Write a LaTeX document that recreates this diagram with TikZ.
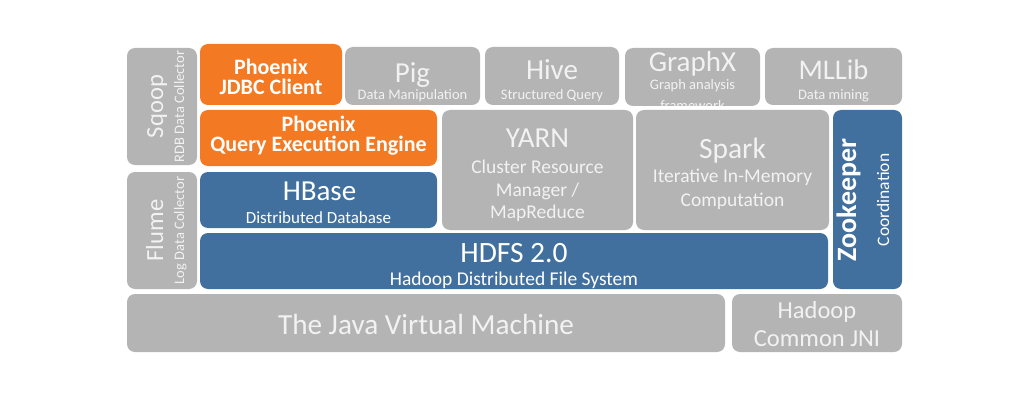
\documentclass[tikz,border=0pt]{standalone}
\usepackage{fontspec}
\setmainfont{Carlito}
\definecolor{gbox}{HTML}{B4B4B4}
\definecolor{bbox}{HTML}{41709F}
\definecolor{obox}{HTML}{F37A22}
\definecolor{gtxt}{HTML}{F2F2F2}
\tikzset{
  blk/.style={rounded corners=8pt, inner sep=0pt, draw=none},
  graybox/.style={blk, fill=gbox},
  bluebox/.style={blk, fill=bbox},
  orangebox/.style={blk, fill=obox},
  lbl/.style={anchor=base, inner sep=0pt, text=gtxt},
  wlbl/.style={anchor=base, inner sep=0pt, text=white},
  vlbl/.style={anchor=base, inner sep=0pt, rotate=90},
}
\newcommand\blk[6]{\node[#6, minimum width={#4-#2}, minimum height={#5-#3}] (#1) at ({(#2+#4)/2},{(#3+#5)/2}) {};}
\newcommand\fsz[1]{\fontsize{#1}{#1}\selectfont}
\begin{document}
\begin{tikzpicture}[x=1pt,y=-1pt]
\useasboundingbox[fill=white] (0,0) rectangle (1030,401);
% ---------- boxes
\blk{sqoop}{127}{48}{197}{165}{graybox}
\blk{flume}{127}{172}{197}{289}{graybox}
\blk{jdbc}{200}{44}{342}{105}{orangebox}
\blk{pig}{345}{47}{480}{105}{graybox}
\blk{hive}{485}{47}{619}{105}{graybox}
\blk{graphx}{625}{48}{760}{106}{graybox}
\blk{mllib}{765}{48}{902}{105}{graybox}
\blk{qee}{200}{110}{437}{166}{orangebox}
\blk{yarn}{442}{110}{633}{230}{graybox}
\blk{spark}{636}{110}{829}{230}{graybox}
\blk{zoo}{833}{110}{902}{289}{bluebox}
\blk{hbase}{200}{172}{437}{228}{bluebox}
\blk{hdfs}{200}{233}{828}{289}{bluebox}
\blk{jvm}{127}{294}{725}{352}{graybox}
\blk{jni}{732}{294}{902}{352}{graybox}
% ---------- texts
\node[vlbl, text=gtxt, font=\fsz{24.6}] (sqoopT) at (163,106.5) {Sqoop};
\node[vlbl, text=gtxt, font=\fsz{14.5}] (sqoopS) at (184,106.5) {RDB Data Collector};
\node[vlbl, text=gtxt, font=\fsz{24.6}] (flumeT) at (163,230.5) {Flume};
\node[vlbl, text=gtxt, font=\fsz{14.5}] (flumeS) at (184,230.5) {Log Data Collector};
\node[wlbl, font=\fsz{22}\bfseries] (jdbcT) at (271,75) {Phoenix};
\node[wlbl, font=\fsz{22}\bfseries] (jdbcS) at (271,95) {JDBC Client};
\node[lbl, font=\fsz{29}] (pigT) at (412.5,82.5) {Pig};
\node[lbl, font=\fsz{14.5}] (pigS) at (412.5,100) {Data Manipulation};
\node[lbl, font=\fsz{29}] (hiveT) at (552,79.5) {Hive};
\node[lbl, font=\fsz{14.5}] (hiveS) at (552,100) {Structured Query};
\begin{scope}
\clip[rounded corners=8pt] (625,48) rectangle (760,106);
\node[lbl, font=\fsz{29}] (graphxT) at (692.5,71.5) {GraphX};
\node[lbl, font=\fsz{14.5}] (graphxS) at (692.5,89.5) {Graph analysis};
\node[lbl, font=\fsz{14.5}] (graphxS2) at (692.5,110.5) {framework};
\end{scope}
\node[lbl, font=\fsz{28.5}] (mllibT) at (833.5,79.5) {MLLib};
\node[lbl, font=\fsz{14.5}] (mllibS) at (833.5,100) {Data mining};
\node[wlbl, font=\fsz{22}\bfseries] (qeeT) at (318.5,131.5) {Phoenix};
\node[wlbl, font=\fsz{22}\bfseries] (qeeS) at (318.5,151.5) {Query Execution Engine};
\node[lbl, font=\fsz{29}] (yarnT) at (537.5,147) {YARN};
\node[lbl, font=\fsz{19.5}] (yarnS1) at (537.5,173) {Cluster Resource};
\node[lbl, font=\fsz{19.5}] (yarnS2) at (537.5,196.5) {Manager /};
\node[lbl, font=\fsz{19.5}] (yarnS3) at (537.5,218.5) {MapReduce};
\node[lbl, font=\fsz{29.5}] (sparkT) at (732.5,158) {Spark};
\node[lbl, font=\fsz{19.5}] (sparkS1) at (732.5,182.5) {Iterative In-Memory};
\node[lbl, font=\fsz{19.5}] (sparkS2) at (732.5,206.5) {Computation};
\node[vlbl, text=white, font=\fsz{28}\bfseries] (zooT) at (856,200) {Zookeeper};
\node[vlbl, text=white, font=\fsz{17.5}] (zooS) at (889,200) {Coordination};
\node[wlbl, font=\fsz{29}] (hbaseT) at (319.5,200) {HBase};
\node[wlbl, font=\fsz{17}] (hbaseS) at (318.5,223) {Distributed Database};
\node[wlbl, font=\fsz{29.5}] (hdfsT) at (514,262.5) {HDFS 2.0};
\node[wlbl, font=\fsz{19.5}] (hdfsS) at (514,285.5) {Hadoop Distributed File System};
\node[lbl, font=\fsz{29.2}] (jvmT) at (426,334.5) {The Java Virtual Machine};
\node[lbl, font=\fsz{24.5}] (jniT) at (817,318) {Hadoop};
\node[lbl, font=\fsz{24.5}] (jniS) at (817,346) {Common JNI};
\end{tikzpicture}
\end{document}
